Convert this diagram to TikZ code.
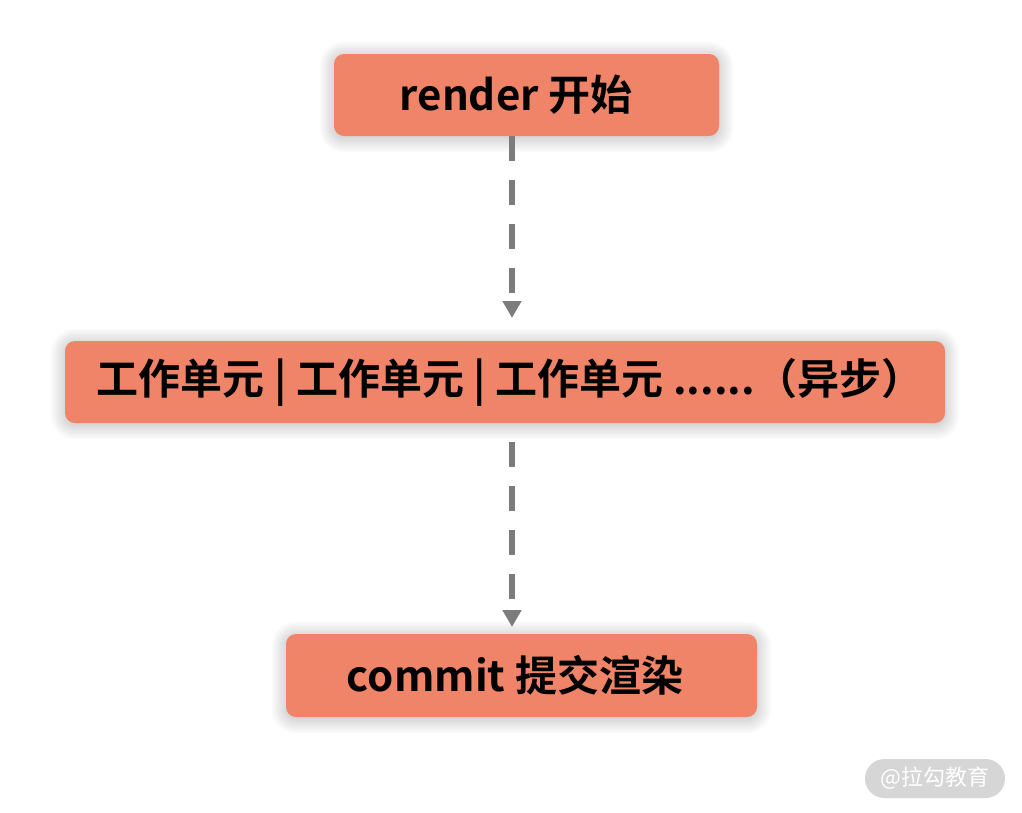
\documentclass[tikz,border=0pt]{standalone}
\usepackage{fontspec}
\newfontfamily\cjkb{Noto Sans CJK SC Bold}
\newfontfamily\cjk{Noto Sans CJK SC}
\usetikzlibrary{arrows.meta,backgrounds}
\definecolor{boxfill}{RGB}{240,132,104}
\definecolor{linegray}{RGB}{124,124,124}
\definecolor{wmgray}{RGB}{214,214,214}
\begin{document}
\begin{tikzpicture}[x=1pt,y=-1pt,
  stepbox/.style={fill=boxfill, rounded corners=10pt, inner sep=0pt},
  steptext/.style={font=\cjkb\fontsize{42}{42}\selectfont, text=black},
  flow/.style={draw=linegray, line width=6pt, dash pattern=on 25pt off 19pt,
    -{Triangle[width=18pt,length=17pt]}}
]
\useasboundingbox (0,0) rectangle (1022,812);
\node[stepbox, minimum width=385pt, minimum height=82pt] (a) at (526.5,95) {};
\node[stepbox, minimum width=880pt, minimum height=82pt] (b) at (505,382) {};
\node[stepbox, minimum width=471pt, minimum height=83pt] (c) at (521.5,675.5) {};
\begin{scope}[on background layer]
\fill[white] (0,0) rectangle (1022,812);
\foreach \n in {a,b,c}{
  \foreach \r in {14,12,...,0}{
    \fill[black, opacity=0.018, rounded corners={10pt+\r pt}]
      ([shift={(-\r,-\r+2)}]\n.north west) rectangle ([shift={(\r,\r+2)}]\n.south east);
  }
}
\end{scope}
\node[steptext] (ta) at (516,95) {render 开始};
\node[steptext] (tb) at (510,382) {工作单元 | 工作单元 | 工作单元 ......（异步）};
\node[steptext] (tc) at (515,675.5) {commit 提交渲染};
\coordinate (a1) at (512,136);
\coordinate (b0) at (512,341);
\coordinate (b1) at (512,423);
\coordinate (c0) at (512,634);
\draw[flow, shorten >=23pt] (a1) -- (b0);
\draw[flow, dash phase=25pt, shorten >=7pt] (b1) -- (c0);
\node[fill=wmgray, rounded corners=19.5pt, minimum width=140pt, minimum height=39pt, inner sep=0pt,
  text=white, font=\cjk\fontsize{22}{22}\selectfont] (wm) at (935,778.5) {@拉勾教育};
\end{tikzpicture}
\end{document}
